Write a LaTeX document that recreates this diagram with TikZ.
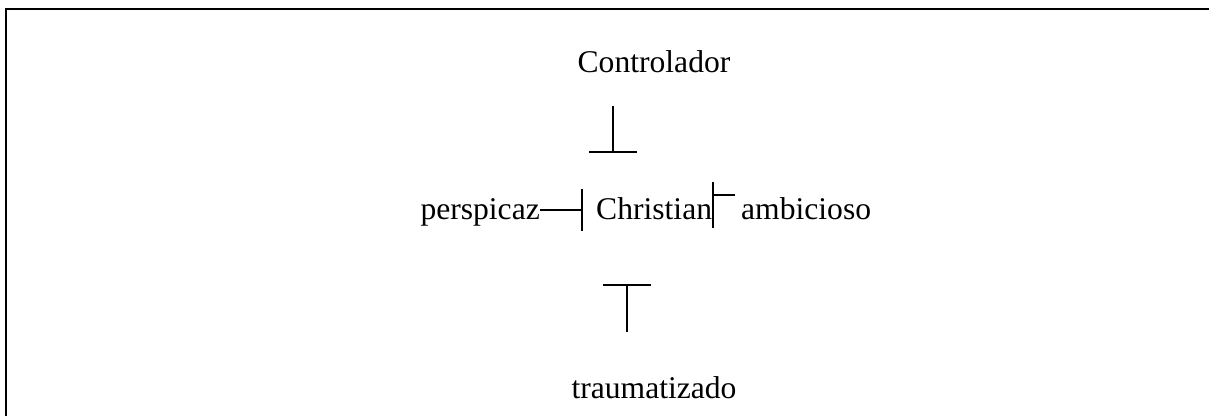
\documentclass[tikz,border=0pt]{standalone}
\usepackage{fontspec}
\setmainfont{Liberation Serif}
\usepackage{tikz}
\usetikzlibrary{arrows.meta}

\begin{document}
\begin{tikzpicture}[x=1pt,y=-1pt,
  word/.style={inner sep=0pt,font=\fontsize{31.6}{38}\selectfont},
  tee/.style={line width=1.6pt}]
\useasboundingbox (0,0) rectangle (1209,416);
\draw[line width=2pt] (6,416) -- (6,8.5) -- (1209,8.5);
\node[word,anchor=base] (ctrl) at (654,72) {Controlador};
\node[word,anchor=base east] (persp) at (540,219) {perspicaz};
\node[word,anchor=base west] (chr) at (596,219) {Christian};
\node[word,anchor=base west] (ambi) at (741,219) {ambicioso};
\node[word,anchor=base] (trauma) at (654,398) {traumatizado};
% top and bottom
\draw[tee,-{Bar[width=48pt]}] ([xshift=-41pt,yshift=-34pt]ctrl.base) -- ([xshift=17pt,yshift=66pt]chr.base west);
\draw[tee,{Bar[width=48pt]}-] ([xshift=31pt,yshift=-65pt]chr.base west) -- ([xshift=-27pt,yshift=66pt]trauma.base);
% left and right
\draw[tee,-{Bar[width=42pt]}] ([yshift=9pt]persp.base east) -- ([xshift=-13pt,yshift=9pt]chr.base west);
\draw[tee] ([xshift=1pt,yshift=-9pt]chr.base east) -- ([xshift=1pt,yshift=37pt]chr.base east);
\draw[tee] ([xshift=1pt,yshift=24pt]chr.base east) -- ([xshift=-6pt,yshift=24pt]ambi.base west);
\end{tikzpicture}
\end{document}
